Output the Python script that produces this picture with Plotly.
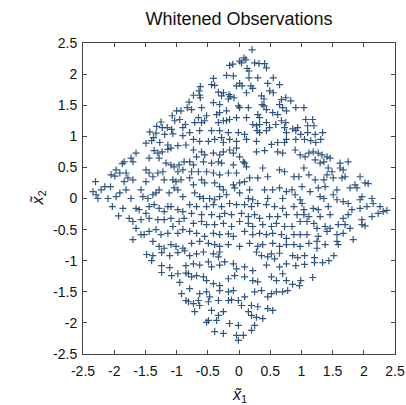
import plotly.graph_objects as go

FONT = "Liberation Sans, Arial, Helvetica, sans-serif"

# Whitened observations (x1~, x2~), stored band by band across the plane.
# Upper band: -0.84 < x1 < 0.82, x2 > 0.84
top_x1 = [0.21,0.08,0.01,0.04,0.11,0.25,0.32,0.41,0.44,-0.15,-0.10,0.13,0.16,-0.20,-0.09,0.16,0.30,0.55,-0.41,-0.44,
          -0.39,0.01,-0.04,0.05,0.19,0.22,0.46,0.65,0.49,0.55,-0.62,-0.64,-0.73,-0.63,-0.62,-0.33,-0.25,-0.28,-0.16,-0.14,
          -0.08,-0.17,0.12,0.36,0.40,0.68,0.75,-0.80,-0.83,-0.41,-0.31,-0.01,0.01,0.15,0.40,0.37,0.44,0.65,0.70,0.76,
          -0.76,-0.60,-0.52,-0.36,-0.31,-0.20,-0.15,-0.04,0.12,0.30,0.33,0.54,0.62,0.68,-0.65,-0.71,-0.60,-0.55,-0.33,-0.25,
          -0.20,0.22,0.28,0.33,0.44,0.49,0.59,0.75,0.73,-0.79,-0.63,-0.44,-0.31,-0.17,-0.01,0.09,0.29,0.33,0.44,0.76,
          -0.73,-0.63,-0.49,-0.39,-0.28,-0.25,-0.15,-0.04,0.12,0.28,0.52,0.62,0.76,0.73]
top_x2 = [2.39,2.26,2.21,2.18,2.23,2.18,2.17,2.17,2.10,2.14,2.16,2.09,2.05,1.98,1.97,1.94,1.94,1.94,1.93,1.83,
          1.82,1.85,1.81,1.81,1.81,1.77,1.85,1.83,1.73,1.70,1.80,1.73,1.66,1.66,1.62,1.71,1.70,1.65,1.67,1.64,
          1.62,1.60,1.70,1.65,1.60,1.59,1.62,1.55,1.46,1.54,1.51,1.49,1.46,1.46,1.49,1.51,1.43,1.51,1.46,1.41,
          1.43,1.46,1.33,1.35,1.38,1.41,1.27,1.30,1.30,1.35,1.30,1.38,1.35,1.25,1.30,1.22,1.22,1.25,1.22,1.25,
          1.25,1.19,1.17,1.19,1.22,1.14,1.19,1.22,1.14,1.06,1.09,1.09,1.09,1.06,1.06,1.03,1.09,1.06,1.09,1.06,
          0.95,0.92,0.92,0.95,0.98,0.90,0.95,0.92,0.95,0.92,0.87,0.90,0.95,0.90]

# Left band: x1 < -0.84, -0.83 < x2 < 0.84
left_x1 = [-1.36,-1.23,-1.30,-1.14,-1.09,-1.65,-1.73,-1.70,-1.84,-1.87,-1.44,-1.28,-1.17,-1.09,-1.04,-0.96,-0.90,-0.98,-0.88,-1.97,
           -2.05,-1.99,-1.91,-1.81,-1.78,-1.70,-1.84,-1.49,-1.44,-1.38,-1.49,-1.30,-1.22,-1.06,-1.01,-0.93,-1.20,-2.30,-2.15,-2.06,
           -2.21,-2.34,-2.29,-2.26,-2.10,-1.97,-1.91,-1.81,-1.73,-1.57,-1.54,-1.46,-1.38,-1.33,-1.28,-1.12,-1.04,-0.98,-0.90,-2.03,
           -1.86,-1.93,-1.65,-1.60,-1.44,-1.36,-1.28,-1.20,-1.14,-1.09,-0.98,-0.90,-1.49,-1.76,-1.70,-1.57,-1.44,-1.30,-1.20,-1.09,
           -1.06,-0.96,-0.88,-1.65,-1.57,-1.70,-1.52,-1.44,-1.33,-1.25,-1.14,-0.98,-0.90,-1.38,-1.28,-1.20,-1.09,-1.01,-0.90]
left_x2 = [0.77,0.75,0.73,0.79,0.81,0.73,0.65,0.59,0.59,0.56,0.65,0.65,0.57,0.54,0.51,0.54,0.46,0.43,0.59,0.46,
           0.38,0.36,0.41,0.41,0.33,0.30,0.27,0.46,0.41,0.35,0.27,0.41,0.43,0.30,0.27,0.30,0.30,0.27,0.19,0.19,
           0.14,0.11,0.06,0.00,0.00,0.03,0.09,0.14,0.00,0.14,0.03,0.00,0.06,0.09,0.14,0.09,0.17,0.14,0.03,-0.13,
           -0.16,-0.28,-0.16,-0.18,-0.13,-0.10,-0.16,-0.21,-0.13,-0.13,-0.18,-0.21,-0.24,-0.32,-0.37,-0.34,-0.32,-0.34,-0.34,-0.32,
           -0.45,-0.37,-0.32,-0.48,-0.58,-0.66,-0.58,-0.53,-0.50,-0.58,-0.56,-0.56,-0.50,-0.69,-0.77,-0.80,-0.74,-0.77,-0.80]

# Central block: -0.84 < x1 < 0.82, -0.83 < x2 < 0.84
mid_x1 = [-0.73,-0.60,-0.55,-0.68,-0.41,-0.31,-0.25,-0.15,-0.09,-0.04,0.01,0.07,0.12,0.09,0.28,0.41,0.62,0.70,-0.79,-0.73,
          -0.57,-0.44,-0.33,-0.28,-0.09,0.38,0.65,0.73,-0.76,-0.65,-0.52,-0.41,-0.31,-0.17,-0.04,0.17,0.30,0.46,-0.79,-0.73,
          -0.60,-0.55,-0.39,-0.31,-0.25,-0.09,-0.07,0.01,0.09,0.17,0.41,0.54,0.65,0.76,-0.71,-0.63,-0.57,-0.47,-0.39,-0.31,
          -0.20,0.01,0.15,0.22,0.46,0.70,-0.79,-0.68,-0.52,-0.41,-0.28,-0.15,-0.04,0.09,0.20,0.30,0.44,0.57,0.70,-0.76,
          -0.60,-0.44,-0.31,-0.23,-0.12,0.04,0.15,0.25,0.33,0.49,0.62,0.76,-0.73,-0.60,-0.52,-0.39,-0.25,-0.12,0.01,0.15,
          0.22,0.38,0.52,0.60,0.73,-0.79,-0.68,-0.55,-0.41,-0.31,-0.17,-0.09,0.09,0.22,0.33,0.44,0.54,0.68,0.76,-0.76,
          -0.63,-0.49,-0.39,-0.31,-0.17,0.01,0.17,0.30,0.38,0.54,0.65,0.76]
mid_x2 = [0.78,0.75,0.70,0.67,0.73,0.70,0.75,0.78,0.73,0.81,0.67,0.59,0.51,0.57,0.75,0.77,0.75,0.73,0.59,0.54,
          0.59,0.57,0.59,0.57,0.54,0.49,0.46,0.43,0.43,0.43,0.43,0.41,0.38,0.41,0.41,0.33,0.33,0.35,0.33,0.22,
          0.30,0.25,0.25,0.19,0.14,0.22,0.17,0.25,0.27,0.14,0.14,0.14,0.17,0.11,0.09,0.03,0.00,0.00,-0.02,0.03,
          0.06,0.09,0.00,-0.02,0.00,0.00,-0.10,-0.13,-0.13,-0.10,-0.13,-0.08,-0.10,-0.10,-0.13,-0.08,-0.10,-0.13,-0.16,-0.24,
          -0.26,-0.26,-0.29,-0.24,-0.26,-0.24,-0.29,-0.26,-0.32,-0.29,-0.29,-0.26,-0.40,-0.37,-0.42,-0.42,-0.40,-0.45,-0.37,-0.40,
          -0.45,-0.42,-0.45,-0.40,-0.45,-0.53,-0.56,-0.61,-0.56,-0.58,-0.57,-0.61,-0.53,-0.58,-0.56,-0.58,-0.56,-0.58,-0.64,-0.72,
          -0.69,-0.72,-0.74,-0.77,-0.74,-0.77,-0.72,-0.77,-0.74,-0.72,-0.77,-0.74]

# Right band: x1 > 0.82, -0.83 < x2 < 0.84
right_x1 = [0.90,0.98,1.06,1.12,1.19,1.27,1.33,1.41,1.46,1.22,1.36,1.30,1.62,1.75,1.04,1.43,1.49,1.62,1.67,1.41,
            0.88,0.96,1.12,1.22,1.36,1.51,1.65,1.70,1.94,2.02,2.07,0.85,1.01,0.90,1.14,1.27,1.38,1.57,1.78,1.89,
            1.86,0.98,1.01,1.30,1.36,1.51,1.57,1.67,1.75,1.94,1.97,2.13,2.15,2.26,2.31,2.37,0.88,1.04,1.19,1.27,
            1.43,1.81,1.94,2.05,0.93,1.04,1.12,1.30,1.46,1.67,1.75,1.97,2.13,2.23,0.85,0.98,1.09,1.20,1.25,1.38,
            1.46,1.59,1.70,1.78,1.97,2.02,0.88,0.98,1.09,1.27,1.41,1.57,1.67,1.83,0.88,0.98,1.12,1.25,1.38,1.57,
            1.59,1.25]
right_x2 = [0.78,0.70,0.67,0.73,0.75,0.73,0.70,0.67,0.65,0.62,0.59,0.57,0.57,0.59,0.49,0.49,0.43,0.49,0.46,0.38,
            0.35,0.35,0.38,0.30,0.30,0.33,0.33,0.35,0.35,0.25,0.24,0.14,0.19,0.06,0.11,0.17,0.19,0.14,0.17,0.17,
            0.22,-0.02,-0.08,0.03,0.00,0.06,-0.02,-0.05,-0.08,-0.02,0.03,0.00,-0.08,-0.13,-0.21,-0.19,-0.13,-0.18,-0.16,-0.18,
            -0.13,-0.18,-0.16,-0.13,-0.26,-0.26,-0.29,-0.29,-0.26,-0.32,-0.26,-0.34,-0.29,-0.24,-0.45,-0.37,-0.37,-0.40,-0.48,-0.45,
            -0.48,-0.42,-0.42,-0.48,-0.42,-0.44,-0.58,-0.58,-0.58,-0.61,-0.53,-0.58,-0.56,-0.66,-0.74,-0.77,-0.72,-0.69,-0.74,-0.69,
            -0.74,-0.80]

# Lower band: -0.84 < x1 < 0.82, x2 < -0.83
low_x1 = [-0.79,-0.68,-0.57,-0.41,-0.33,-0.31,0.28,0.36,0.46,0.52,0.57,0.65,-0.73,-0.63,-0.49,-0.44,-0.31,-0.23,-0.09,-0.04,
          0.09,0.22,0.44,0.65,0.76,-0.81,-0.76,-0.68,-0.57,-0.52,-0.41,-0.31,-0.17,-0.07,0.09,0.22,0.30,0.52,0.60,0.70,
          0.76,-0.79,-0.63,-0.52,-0.47,-0.31,-0.17,-0.09,-0.12,-0.01,0.09,0.25,0.36,0.46,0.52,0.60,0.70,0.78,-0.81,-0.73,
          -0.65,-0.63,-0.49,-0.33,-0.17,0.04,0.20,0.30,0.46,0.54,-0.71,-0.44,-0.33,-0.25,0.15,0.20,0.28,0.38,-0.52,-0.49,
          -0.36,-0.15,-0.01,0.25,0.20,-0.39,-0.25,-0.04,0.07,-0.01]
low_x2 = [-0.92,-0.89,-0.86,-0.89,-0.94,-0.86,-0.86,-0.92,-0.94,-0.89,-0.97,-0.88,-1.05,-1.07,-1.02,-1.10,-1.07,-1.02,-1.05,-1.13,
          -1.10,-1.16,-1.07,-1.10,-1.05,-1.21,-1.26,-1.24,-1.26,-1.32,-1.37,-1.40,-1.29,-1.24,-1.26,-1.32,-1.34,-1.26,-1.32,-1.21,
          -1.32,-1.45,-1.53,-1.50,-1.58,-1.48,-1.50,-1.48,-1.63,-1.64,-1.58,-1.50,-1.48,-1.58,-1.53,-1.50,-1.50,-1.48,-1.66,-1.69,
          -1.64,-1.72,-1.66,-1.64,-1.64,-1.72,-1.72,-1.74,-1.77,-1.80,-1.82,-1.80,-1.88,-1.82,-1.82,-1.88,-1.91,-1.93,-1.99,-1.96,
          -1.96,-2.01,-2.04,-2.04,-2.12,-2.14,-2.17,-2.20,-2.20,-2.28]

# Four corner blocks
tl_x1 = [-1.00,-0.93,-1.07,-1.03,-0.95,-1.25,-1.32,-1.23,-1.15,-1.08,-0.90,-0.86,-1.43,-1.33,-1.19,-1.06,-0.90,-1.49,-1.40,-1.37,
         -1.27,-1.14,-0.98,-0.85]
tl_x2 = [1.41,1.41,1.33,1.25,1.27,1.23,1.16,1.14,1.14,1.11,1.14,1.19,1.07,1.05,1.03,1.04,1.01,0.89,0.93,0.98,
         0.90,0.86,0.85,0.86]
tr_x1 = [0.83,0.91,1.04,1.07,1.18,0.86,0.94,1.10,1.20,0.91,0.99,1.10,1.22,1.34,0.91,1.05,1.15,1.23,1.31]
tr_x2 = [1.57,1.46,1.46,1.27,1.27,1.12,1.14,1.17,1.17,1.09,1.03,1.06,1.03,1.06,0.95,0.95,0.93,0.90,0.95]
bl_x1 = [-1.48,-1.38,-1.24,-1.11,-0.98,-0.87,-1.40,-1.24,-1.11,-0.85,-1.24,-1.08,-0.98,-0.85,-0.95,-0.92,-0.85]
bl_x2 = [-0.90,-0.92,-0.87,-0.92,-0.87,-0.84,-1.00,-1.08,-1.11,-1.08,-1.19,-1.24,-1.21,-1.20,-1.35,-1.53,-1.64]
br_x1 = [0.86,0.94,1.05,1.21,1.52,0.91,1.05,1.21,1.34,1.44,0.86,0.99,1.18,0.97]
br_x2 = [-0.92,-0.95,-0.92,-0.95,-0.92,-1.08,-1.06,-1.03,-1.03,-1.00,-1.38,-1.32,-1.27,-1.40]

x1 = top_x1 + left_x1 + mid_x1 + right_x1 + low_x1 + tl_x1 + tr_x1 + bl_x1 + br_x1
x2 = top_x2 + left_x2 + mid_x2 + right_x2 + low_x2 + tl_x2 + tr_x2 + bl_x2 + br_x2

tick_vals = [-2.5, -2, -1.5, -1, -0.5, 0, 0.5, 1, 1.5, 2, 2.5]
tick_text = ["-2.5", "-2", "-1.5", "-1", "-0.5", "0", "0.5", "1", "1.5", "2", "2.5"]

fig = go.Figure()
fig.add_trace(go.Scatter(
    x=x1, y=x2, mode="markers",
    marker=dict(symbol="cross-thin", size=5, line=dict(width=1.2, color="rgba(26,68,118,0.9)")),
    showlegend=False, hoverinfo="skip",
))

axis_common = dict(
    range=[-2.5, 2.5], tickvals=tick_vals, ticktext=tick_text,
    ticks="inside", ticklen=4, tickwidth=1, tickcolor="#444",
    showline=True, linecolor="#444", linewidth=1, mirror="ticks",
    showgrid=False, zeroline=False, automargin=False,
    tickfont=dict(family=FONT, size=14, color="#111"),
)

fig.update_layout(
    width=406, height=405,
    margin=dict(l=83, r=11, t=43, b=51),
    paper_bgcolor="white", plot_bgcolor="white",
    title=dict(text="Whitened Observations", x=0.5, xref="paper", xanchor="center", y=0.955, yanchor="middle",
               font=dict(family=FONT, size=18, color="#111")),
    xaxis=dict(axis_common, ticklabelstandoff=4),
    yaxis=dict(axis_common, ticklabelstandoff=2),
    annotations=[
        dict(text="<i>x̃</i><sub>1</sub>", xref="paper", yref="paper", x=0.5, y=-0.132,
             xanchor="center", yanchor="middle", showarrow=False,
             font=dict(family=FONT, size=16, color="#111")),
        dict(text="<i>x̃</i><sub>2</sub>", xref="paper", yref="paper", x=-0.144, y=0.5,
             xanchor="center", yanchor="middle", showarrow=False, textangle=-90,
             font=dict(family=FONT, size=16, color="#111")),
    ],
)

fig.write_html("out.html")
